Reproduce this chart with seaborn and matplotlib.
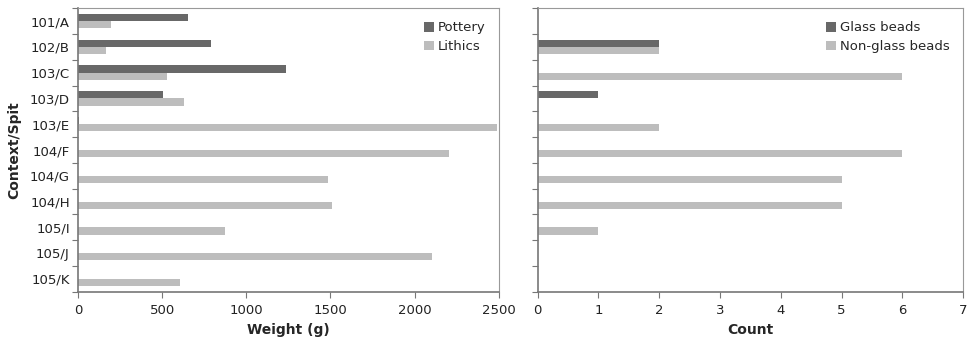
import matplotlib
matplotlib.use("Agg")
import matplotlib.pyplot as plt
import seaborn as sns
import pandas as pd
from matplotlib.patches import Patch

contexts = ["101/A", "102/B", "103/C", "103/D", "103/E", "104/F",
            "104/G", "104/H", "105/I", "105/J", "105/K"]
pottery = [654, 788, 1236, 503, 8, 0, 0, 0, 0, 0, 0]
lithics = [198, 166, 531, 628, 2489, 2206, 1486, 1510, 872, 2102, 608]
glass_beads = [0, 2, 0, 1, 0, 0, 0, 0, 0, 0, 0]
nonglass_beads = [0, 2, 6, 0, 2, 6, 5, 5, 1, 0, 0]

dark = "#686868"
light = "#bdbdbd"

sns.set_theme(style="white")
plt.rcParams["font.family"] = ["DejaVu Sans"]

weights = pd.DataFrame({
    "Context": contexts * 2,
    "Weight": pottery + lithics,
    "Material": ["Pottery"] * len(contexts) + ["Lithics"] * len(contexts),
})
beads = pd.DataFrame({
    "Context": contexts * 2,
    "Count": glass_beads + nonglass_beads,
    "Type": ["Glass beads"] * len(contexts) + ["Non-glass beads"] * len(contexts),
})

fig = plt.figure(figsize=(9.67, 3.39), dpi=100)
ax1 = fig.add_axes([0.0807, 0.139, 0.435, 0.837])
ax2 = fig.add_axes([0.556, 0.139, 0.440, 0.837])

sns.barplot(data=weights, y="Context", x="Weight", hue="Material",
            order=contexts, palette=[dark, light], saturation=1,
            width=0.56, linewidth=0, ax=ax1, legend=False)
sns.barplot(data=beads, y="Context", x="Count", hue="Type",
            order=contexts, palette=[dark, light], saturation=1,
            width=0.56, linewidth=0, ax=ax2, legend=False)

for ax, xmax, step in ((ax1, 2500, 500), (ax2, 7, 1)):
    ax.set_xlim(0, xmax)
    ax.set_xticks(range(0, xmax + 1, step))
    ax.set_ylim(len(contexts) - 0.5, -0.5)
    ax.set_yticks([i - 0.5 for i in range(len(contexts) + 1)], minor=True)
    ax.tick_params(axis="y", which="major", length=0, labelsize=9.5, pad=6)
    ax.tick_params(axis="y", which="minor", length=4, width=0.8, color="#777777", left=True)
    ax.tick_params(axis="x", which="major", length=4, width=0.8, color="#777777",
                   bottom=True, labelsize=9.5, pad=5)
    for side in ("left", "bottom"):
        ax.spines[side].set_color("#777777")
        ax.spines[side].set_linewidth(1.2)
    for side in ("top", "right"):
        ax.spines[side].set_color("#999999")
        ax.spines[side].set_linewidth(0.8)
    for lab in ax.get_xticklabels() + ax.get_yticklabels():
        lab.set_color("#222222")

ax1.set_ylabel("Context/Spit", fontsize=10, fontweight="bold", labelpad=6)
ax1.set_xlabel("Weight (g)", fontsize=10, fontweight="bold", labelpad=4)
ax2.set_ylabel("")
ax2.set_yticklabels([])
ax2.set_xlabel("Count", fontsize=10, fontweight="bold", labelpad=4)

def add_legend(ax, labels):
    handles = [Patch(facecolor=dark, edgecolor="none"),
               Patch(facecolor=light, edgecolor="none")]
    ax.legend(handles, labels, loc="upper right", frameon=False, fontsize=9.5,
              handlelength=0.75, handleheight=0.75, handletextpad=0.3,
              labelspacing=0.45, borderaxespad=0.6)

add_legend(ax1, ["Pottery", "Lithics"])
add_legend(ax2, ["Glass beads", "Non-glass beads"])

fig.savefig("out.png", dpi=100)
